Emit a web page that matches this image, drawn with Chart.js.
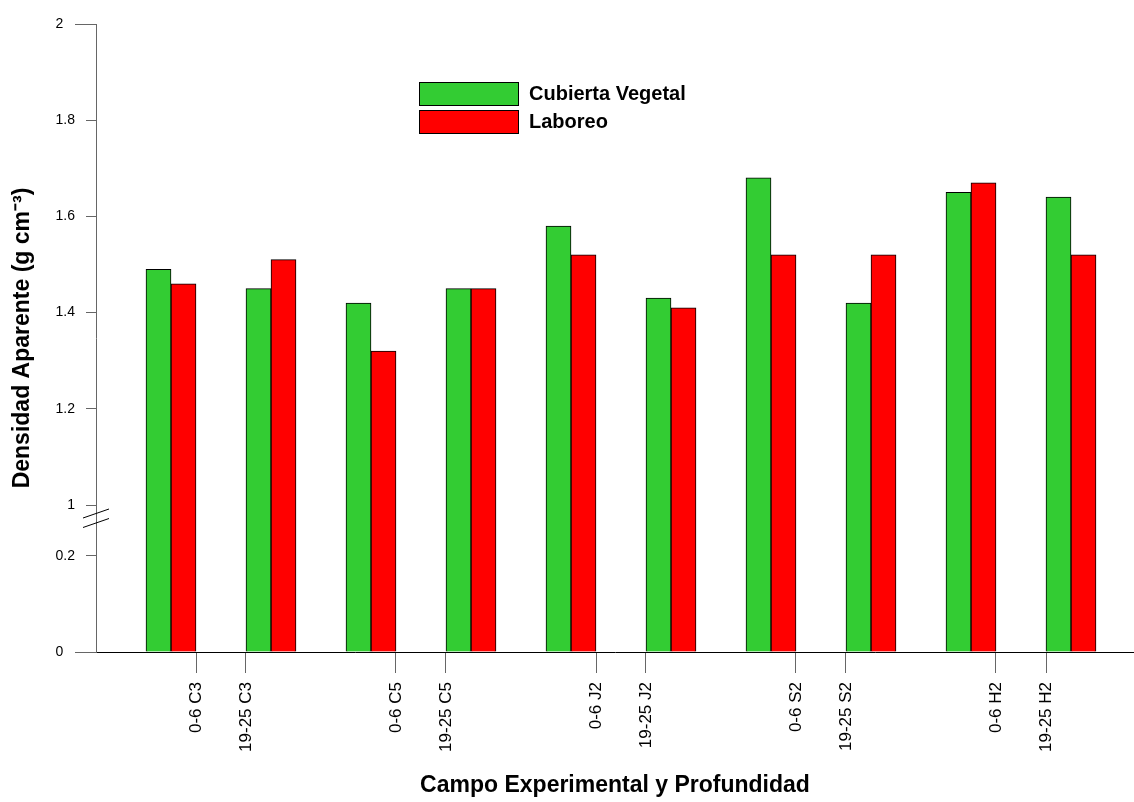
<!DOCTYPE html>
<html>
<head>
<meta charset="utf-8">
<script src="https://cdn.jsdelivr.net/npm/chart.js@4.4.0/dist/chart.umd.min.js"></script>
<style>
  html, body { margin: 0; padding: 0; background: #fff; }
</style>
</head>
<body>
<canvas id="myChart" width="1134" height="802"></canvas>
<script>
const categories = ['0-6 C3', '19-25 C3', '0-6 C5', '19-25 C5', '0-6 J2', '19-25 J2', '0-6 S2', '19-25 S2', '0-6 H2', '19-25 H2'];
const cubiertaVegetal = [1.49, 1.45, 1.42, 1.45, 1.58, 1.43, 1.68, 1.42, 1.65, 1.64];
const laboreo = [1.46, 1.51, 1.32, 1.45, 1.52, 1.41, 1.52, 1.52, 1.67, 1.52];
const yTickValues = [0, 0.2, 1, 1.2, 1.4, 1.6, 1.8, 2];
const yTickLabels = ['0', '0.2', '1', '1.2', '1.4', '1.6', '1.8', '2'];

// broken y axis: 0-0.2 at the bottom, 1-2 on top, same units
const breakAt = 0.3056; // where 1 sits on the drawn axis
const toAxis = v => v >= 1 ? v - 1 + breakAt : v;

// tick marks sit at the outer edge of each pair of groups
const xTickPos = categories.map((c, i) => i % 2 === 0 ? i + 0.25 : i - 0.25);

const FONT = 'Liberation Sans, Arial, sans-serif';
Chart.defaults.font.family = FONT;
Chart.defaults.color = '#000';

const extras = {
  id: 'extras',
  afterDraw(chart) {
    const ctx = chart.ctx;
    const y = chart.scales.y;
    const ax = chart.chartArea.left;
    ctx.save();
    ctx.lineWidth = 1;
    // the end ticks are longer
    ctx.strokeStyle = '#666';
    [0, 2].forEach(v => {
      const py = Math.round(y.getPixelForValue(toAxis(v))) + 0.5;
      ctx.beginPath();
      ctx.moveTo(ax - 21, py);
      ctx.lineTo(ax - 10, py);
      ctx.stroke();
    });
    // break marks
    const pb = y.getPixelForValue(toAxis(1));
    ctx.strokeStyle = '#000';
    [8.5, 18].forEach(d => {
      ctx.beginPath();
      ctx.moveTo(ax - 13, pb + d + 4.5);
      ctx.lineTo(ax + 13, pb + d - 4.5);
      ctx.stroke();
    });
    // legend
    const lx = ax + 323, ly = chart.chartArea.top + 58;
    ctx.font = 'bold 20px ' + FONT;
    ctx.textBaseline = 'middle';
    ctx.textAlign = 'left';
    chart.data.datasets.forEach((ds, i) => {
      const top = ly + i * 28;
      ctx.fillStyle = ds.backgroundColor;
      ctx.fillRect(lx, top, 99, 23);
      ctx.strokeStyle = '#000';
      ctx.strokeRect(lx + 0.5, top + 0.5, 99, 23);
      ctx.fillStyle = '#000';
      ctx.fillText(ds.label, lx + 110, top + 12);
    });
    ctx.restore();
  }
};

const ctx = document.getElementById('myChart').getContext('2d');
const myChart = new Chart(ctx, {
  type: 'bar',
  data: {
    datasets: [{
      label: 'Cubierta Vegetal',
      data: cubiertaVegetal.map((v, i) => ({x: i, y: toAxis(v)})),
      backgroundColor: '#33CC33',
      borderColor: '#000',
      borderWidth: 1
    }, {
      label: 'Laboreo',
      data: laboreo.map((v, i) => ({x: i, y: toAxis(v)})),
      backgroundColor: '#FF0000',
      borderColor: '#000',
      borderWidth: 1
    }]
  },
  options: {
    responsive: false,
    animation: false,
    // the ruler takes the 50px tick gap as its unit
    categoryPercentage: 1,
    barPercentage: 1,
    layout: { padding: { top: 24, right: 0, bottom: 0, left: 0 } },
    plugins: {
      legend: { display: false },
      tooltip: { enabled: false }
    },
    scales: {
      x: {
        type: 'linear',
        min: -0.75,
        max: 9.63,
        offset: false,
        afterBuildTicks: s => { s.ticks = xTickPos.map(v => ({value: v})); },
        afterFit: s => { s.height = 150; },
        grid: { drawOnChartArea: false, offset: false, tickLength: 21, color: '#666' },
        border: { color: '#000', width: 1 },
        ticks: {
          autoSkip: false,
          minRotation: 90,
          maxRotation: 90,
          padding: 9,
          font: { size: 17 },
          callback: (v, i) => categories[i]
        },
        title: {
          display: true,
          text: 'Campo Experimental y Profundidad',
          font: { size: 23, weight: 'bold' },
          padding: { top: 0, bottom: 3 }
        }
      },
      y: {
        min: 0,
        max: 1 + breakAt,
        afterBuildTicks: s => { s.ticks = yTickValues.map(v => ({value: toAxis(v)})); },
        afterFit: s => { s.width = 96; },
        grid: { drawOnChartArea: false, tickLength: 10, color: '#666' },
        border: { color: '#666', width: 1 },
        ticks: {
          padding: 11,
          font: { size: 14 },
          // end labels move out past the longer ticks
          callback: (v, i) => (i === 0 || i === yTickLabels.length - 1) ? yTickLabels[i] + '   ' : yTickLabels[i]
        },
        title: {
          display: true,
          text: 'Densidad Aparente (g cm\u207B\u00B3)',
          font: { size: 23, weight: 'bold' },
          padding: { top: 9, bottom: 0 }
        }
      }
    }
  },
  plugins: [extras]
});
</script>
</body>
</html>
